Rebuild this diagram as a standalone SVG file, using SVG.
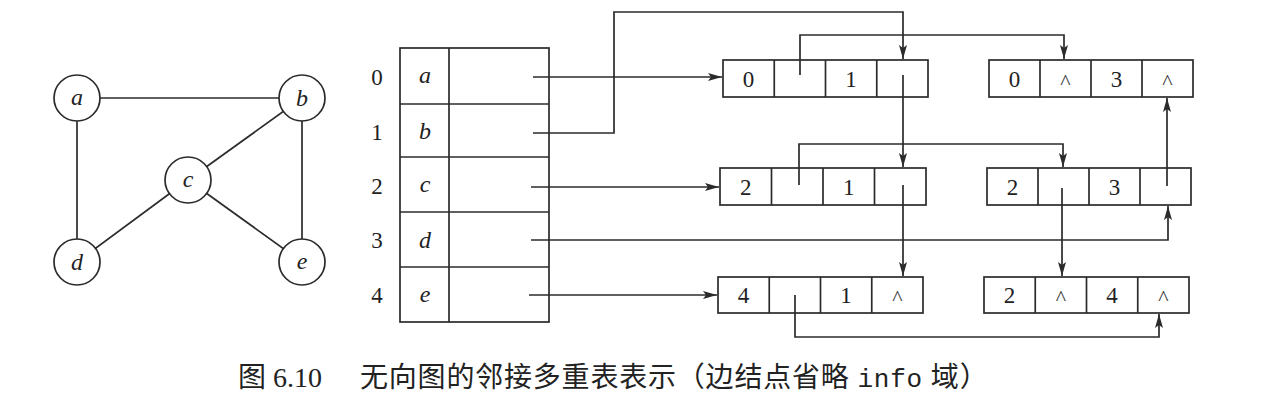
<svg xmlns="http://www.w3.org/2000/svg" width="1270" height="404" viewBox="0 0 1270 404">
<defs>
<style>
.ln{stroke:#2b2b2b;stroke-width:1.7;fill:none}
.bx{stroke:#2b2b2b;stroke-width:1.7;fill:#fff}
.ci{stroke:#2b2b2b;stroke-width:1.7;fill:#fff}
.it{font-family:"Liberation Serif",serif;font-style:italic;font-size:24px;fill:#222;text-anchor:middle}
.nm{font-family:"Liberation Serif",serif;font-size:23px;fill:#222;text-anchor:middle}
.ct{font-family:"Liberation Serif",serif;font-size:22px;fill:#333;text-anchor:middle}
.cap{font-family:"Liberation Serif","Noto Sans CJK SC",serif;font-size:28px;fill:#222}
.mono{font-family:"Liberation Mono",monospace;font-size:26px}
</style>
<marker id="ar" viewBox="0 0 14 8" refX="14" refY="4" markerWidth="14" markerHeight="8" markerUnits="userSpaceOnUse" orient="auto">
<path d="M0,0 L14,4 L0,8 L3,4 z" fill="#2b2b2b"/>
</marker>
</defs>
<rect width="1270" height="404" fill="#fff"/>

<g id="graph-edges">
<line class="ln" x1="77" y1="98" x2="302" y2="98"/>
<line class="ln" x1="77" y1="98" x2="77" y2="262"/>
<line class="ln" x1="302" y1="98" x2="302" y2="262"/>
<line class="ln" x1="302" y1="98" x2="188" y2="180"/>
<line class="ln" x1="188" y1="180" x2="77" y2="262"/>
<line class="ln" x1="188" y1="180" x2="302" y2="262"/>
</g>
<g id="v-a"><circle class="ci" cx="77" cy="98" r="23"/><text class="it" x="77" y="105">a</text></g>
<g id="v-b"><circle class="ci" cx="302" cy="98" r="23"/><text class="it" x="302" y="106">b</text></g>
<g id="v-c"><circle class="ci" cx="188" cy="180" r="23"/><text class="it" x="188" y="187">c</text></g>
<g id="v-d"><circle class="ci" cx="77" cy="262" r="23"/><text class="it" x="77" y="270">d</text></g>
<g id="v-e"><circle class="ci" cx="302" cy="262" r="23"/><text class="it" x="302" y="269">e</text></g>

<g id="table">
<rect class="bx" x="400" y="48" width="149" height="274"/>
<line class="ln" x1="449" y1="48" x2="449" y2="322"/>
<line class="ln" x1="400" y1="104" x2="549" y2="104"/>
<line class="ln" x1="400" y1="157" x2="549" y2="157"/>
<line class="ln" x1="400" y1="212" x2="549" y2="212"/>
<line class="ln" x1="400" y1="267" x2="549" y2="267"/>
<text class="nm" x="377" y="85">0</text>
<text class="nm" x="377" y="140">1</text>
<text class="nm" x="377" y="194">2</text>
<text class="nm" x="377" y="248">3</text>
<text class="nm" x="377" y="303">4</text>
<text class="it" x="425" y="83">a</text>
<text class="it" x="425" y="139">b</text>
<text class="it" x="425" y="192">c</text>
<text class="it" x="425" y="248">d</text>
<text class="it" x="425" y="302">e</text>
</g>

<g id="e01">
<rect class="bx" x="723" y="60" width="205" height="37"/>
<line class="ln" x1="774.25" y1="60" x2="774.25" y2="97"/>
<line class="ln" x1="825.5" y1="60" x2="825.5" y2="97"/>
<line class="ln" x1="876.75" y1="60" x2="876.75" y2="97"/>
<text class="nm" x="748.5" y="87">0</text>
<text class="nm" x="851" y="87">1</text>
</g>
<g id="e03">
<rect class="bx" x="989" y="60" width="204" height="37"/>
<line class="ln" x1="1040" y1="60" x2="1040" y2="97"/>
<line class="ln" x1="1091" y1="60" x2="1091" y2="97"/>
<line class="ln" x1="1142" y1="60" x2="1142" y2="97"/>
<text class="nm" x="1014.5" y="87">0</text>
<text class="ct" x="1065.5" y="89">^</text>
<text class="nm" x="1116.5" y="87">3</text>
<text class="ct" x="1167.5" y="89">^</text>
</g>
<g id="e21">
<rect class="bx" x="720" y="168" width="206" height="37"/>
<line class="ln" x1="771.5" y1="168" x2="771.5" y2="205"/>
<line class="ln" x1="823" y1="168" x2="823" y2="205"/>
<line class="ln" x1="874.5" y1="168" x2="874.5" y2="205"/>
<text class="nm" x="745.75" y="195">2</text>
<text class="nm" x="848.75" y="195">1</text>
</g>
<g id="e23">
<rect class="bx" x="987" y="168" width="204" height="37"/>
<line class="ln" x1="1038" y1="168" x2="1038" y2="205"/>
<line class="ln" x1="1089" y1="168" x2="1089" y2="205"/>
<line class="ln" x1="1140" y1="168" x2="1140" y2="205"/>
<text class="nm" x="1012.5" y="195">2</text>
<text class="nm" x="1114.5" y="195">3</text>
</g>
<g id="e41">
<rect class="bx" x="718" y="277" width="205" height="36"/>
<line class="ln" x1="769.25" y1="277" x2="769.25" y2="313"/>
<line class="ln" x1="820.5" y1="277" x2="820.5" y2="313"/>
<line class="ln" x1="871.75" y1="277" x2="871.75" y2="313"/>
<text class="nm" x="743.6" y="303">4</text>
<text class="nm" x="846.1" y="303">1</text>
<text class="ct" x="897.4" y="305">^</text>
</g>
<g id="e43">
<rect class="bx" x="984" y="277" width="205" height="36"/>
<line class="ln" x1="1035.25" y1="277" x2="1035.25" y2="313"/>
<line class="ln" x1="1086.5" y1="277" x2="1086.5" y2="313"/>
<line class="ln" x1="1137.75" y1="277" x2="1137.75" y2="313"/>
<text class="nm" x="1009.6" y="303">2</text>
<text class="ct" x="1060.9" y="305">^</text>
<text class="nm" x="1112.1" y="303">4</text>
<text class="ct" x="1163.4" y="305">^</text>
</g>

<g id="connectors">
<path class="ln" d="M533,77 H722" marker-end="url(#ar)"/>
<path class="ln" d="M533,133 H614 V12 H903 V59" marker-end="url(#ar)"/>
<path class="ln" d="M531,187 H719" marker-end="url(#ar)"/>
<path class="ln" d="M531,240 H1168 V206" marker-end="url(#ar)"/>
<path class="ln" d="M529,295 H717" marker-end="url(#ar)"/>
<path class="ln" d="M800,75 V35 H1064 V59" marker-end="url(#ar)"/>
<path class="ln" d="M903,75 V167" marker-end="url(#ar)"/>
<path class="ln" d="M799,185 V144 H1063 V167" marker-end="url(#ar)"/>
<path class="ln" d="M903,185 V276" marker-end="url(#ar)"/>
<path class="ln" d="M795,295 V337 H1159 V314" marker-end="url(#ar)"/>
<path class="ln" d="M1062,188 V276" marker-end="url(#ar)"/>
<path class="ln" d="M1167,186 V98" marker-end="url(#ar)"/>
</g>

<g id="caption">
<text class="cap" x="238" y="387" xml:space="preserve">图 6.10</text>
<text class="cap" x="360" y="387" letter-spacing="0.8" xml:space="preserve">无向图的邻接多重表表示（边结点省略 <tspan class="mono">info</tspan> 域）</text>
</g>
</svg>
